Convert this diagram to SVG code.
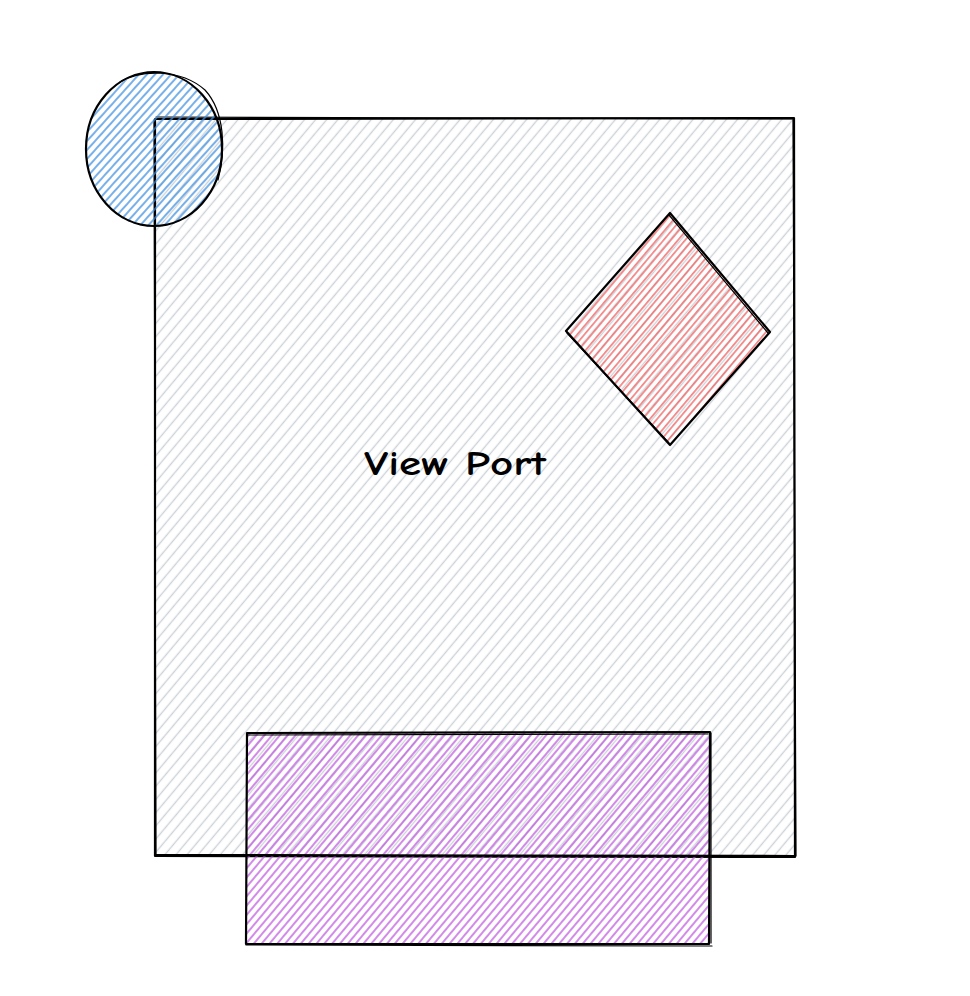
<svg xmlns="http://www.w3.org/2000/svg" width="970" height="996" viewBox="0 0 970 996">
<style>
.out{fill:none;stroke:#000;stroke-width:2.2;stroke-linecap:round;stroke-linejoin:round}
.out2{fill:none;stroke:#000;stroke-width:1.2;stroke-linecap:round;stroke-linejoin:round}
.lbl{font-family:"Comic Neue","Liberation Sans",sans-serif;font-size:34px;font-weight:bold;fill:#000}
</style>
<defs>
<pattern id="hGray" patternUnits="userSpaceOnUse" width="20" height="8.5" patternTransform="rotate(-50)">
<line x1="0" y1="4.2" x2="20" y2="4.2" stroke="#cdd2d8" stroke-width="1.4"/>
</pattern>
<pattern id="hBlue" patternUnits="userSpaceOnUse" width="20" height="6" patternTransform="rotate(-48)">
<line x1="0" y1="3" x2="20" y2="3" stroke="#3d8fe0" stroke-width="1.4"/>
</pattern>
<pattern id="hRed" patternUnits="userSpaceOnUse" width="20" height="5.5" patternTransform="rotate(-50)">
<line x1="0" y1="2.7" x2="20" y2="2.7" stroke="#f25d5d" stroke-width="1.3"/>
</pattern>
<pattern id="hPurple" patternUnits="userSpaceOnUse" width="20" height="6" patternTransform="rotate(-50)">
<line x1="0" y1="3" x2="20" y2="3" stroke="#b94bdb" stroke-width="1.3"/>
</pattern>
</defs>
<rect width="970" height="996" fill="#fff"/>
<g id="viewport">
<rect x="155" y="118" width="640" height="738" fill="url(#hGray)"/>
<path class="out" d="M155 119 L794 118 L795 857 L155 856 Z"/>
<path class="out2" d="M156 117 L793 119 M793 120 L796 856 M154 120 L156 855"/>
<text class="lbl" x="455" y="475" text-anchor="middle" textLength="182" lengthAdjust="spacingAndGlyphs">View Port</text>
</g>
<g id="circle">
<ellipse cx="154" cy="150" rx="68" ry="77" fill="url(#hBlue)"/>
<ellipse class="out" cx="154" cy="149" rx="68" ry="77"/>
<path class="out2" d="M120 82 C140 70 180 68 205 90 C225 112 226 150 218 180"/>
</g>
<g id="diamond">
<polygon points="670,213 770,332 670,445 566,331" fill="url(#hRed)"/>
<path class="out" d="M670 213 L770 332 L670 445 L566 331 Z"/>
<path class="out2" d="M669 215 L768 333 M567 333 L669 443"/>
</g>
<g id="bar">
<rect x="247" y="732" width="463" height="212" fill="url(#hPurple)"/>
<path class="out" d="M247 733 L710 732 L709 944 L246 944 Z"/>
<path class="out2" d="M248 735 L708 734 M711 733 L711 943 M246 945 L712 946"/>
<path class="out" d="M155 855 L795 856"/>
</g>
</svg>
